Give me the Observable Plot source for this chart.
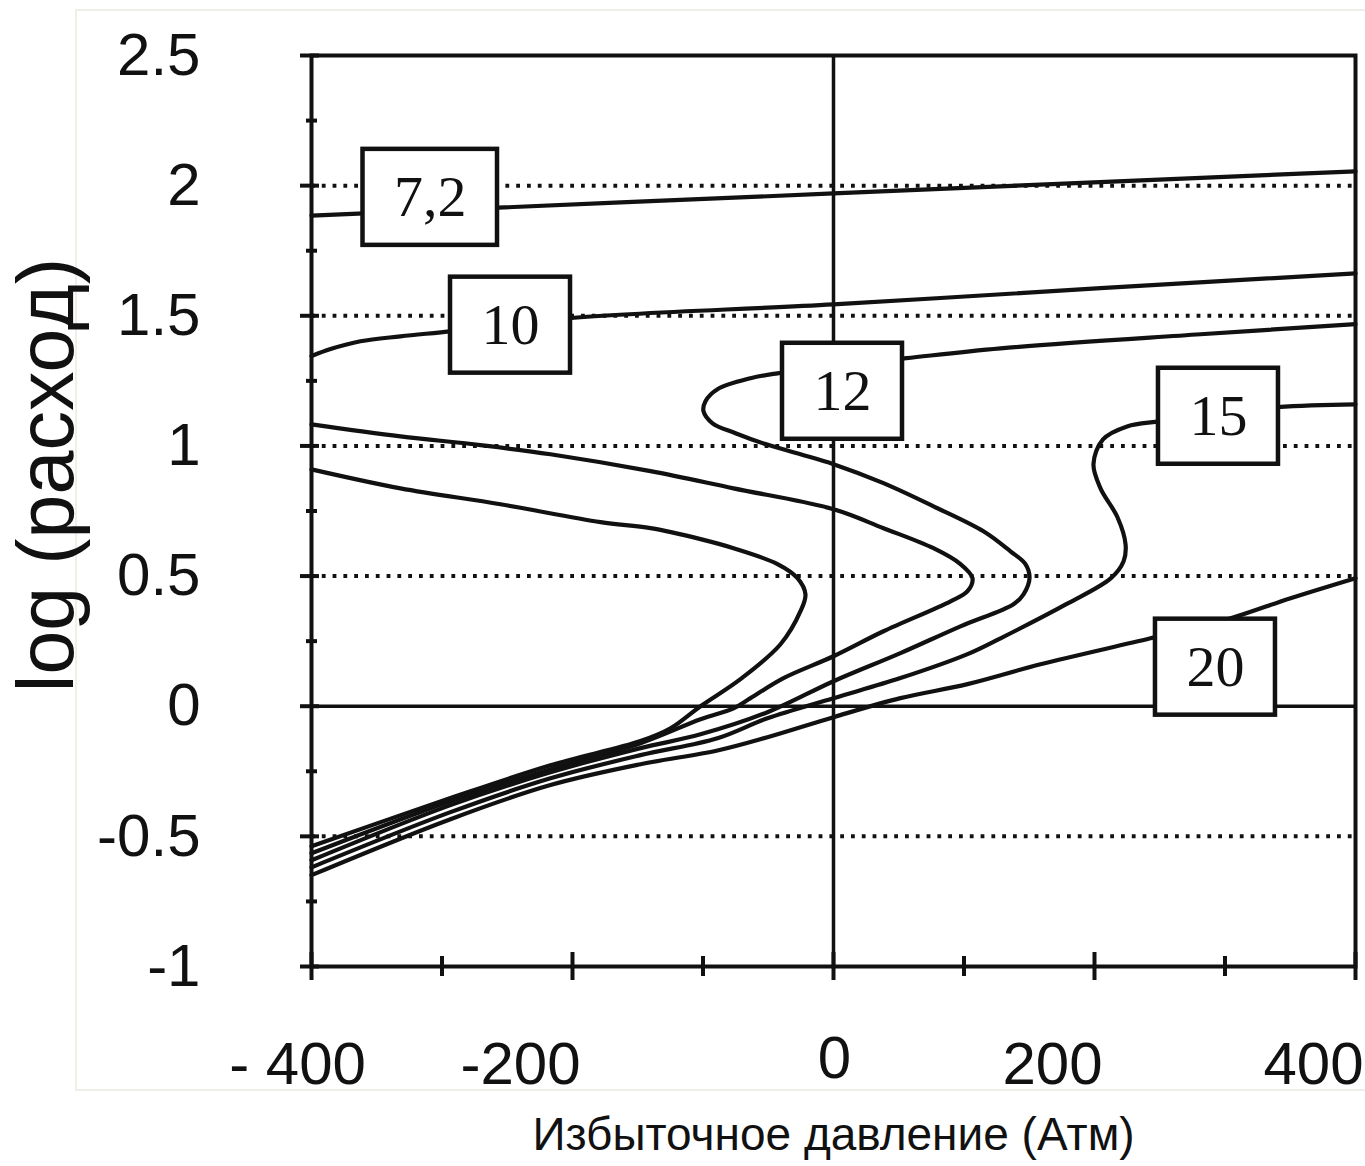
<!DOCTYPE html>
<html><head><meta charset="utf-8">
<script src="https://cdn.jsdelivr.net/npm/d3@7"></script>
<script src="https://cdn.jsdelivr.net/npm/@observablehq/plot@0.6"></script>
<style>
html,body{margin:0;padding:0;background:#fff;}
#wrap{position:relative;width:1365px;height:1166px;overflow:hidden;}
#border{position:absolute;left:75px;top:9px;width:1310px;height:1082px;border:2px solid #efefe8;box-sizing:border-box;}
#chart{position:absolute;left:0;top:0;}
</style></head><body>
<div id="wrap"><div id="border"></div><div id="chart"></div></div>
<script>
// ---- data ----
const xTicks = [-400, -200, 0, 200, 400];
const xMinorTicks = [-300, -100, 100, 300];
const xTickLabels = ["- 400", "-200", "0", "200", "400"];
const yTicks = [2.5, 2, 1.5, 1, 0.5, 0, -0.5, -1];
const yMinorTicks = [2.25, 1.75, 1.25, 0.75, 0.25, -0.25, -0.75];
const yTickLabels = ["2.5", "2", "1.5", "1", "0.5", "0", "-0.5", "-1"];
const gridY = [2, 1.5, 1, 0.5, -0.5];
const xTitle = "Избыточное давление (Атм)";
const yTitle = "log (расход)";

// contour "7,2"
const curve72 = [[-400, 1.885], [0, 1.97], [400, 2.055]];
// contour "10"
const curve10 = [[-400, 1.345], [-385.4, 1.372], [-362.5, 1.402], [-331.8, 1.421], [-292, 1.441],
  [-203, 1.491], [0, 1.544], [204.6, 1.606], [400, 1.663]];
// lower branch entering from the left (tip near -20)
const curveA = [[-400, 0.910], [-331.8, 0.837], [-255.2, 0.776], [-178.5, 0.707], [-140.2, 0.684],
  [-101.9, 0.642], [-76.6, 0.607], [-42.9, 0.546], [-27.6, 0.492], [-21.5, 0.430], [-25.3, 0.365],
  [-40.6, 0.238], [-71.3, 0.104], [-101.9, 0], [-124.9, -0.085], [-147.9, -0.134], [-216.9, -0.227],
  [-293.5, -0.353], [-400, -0.538]];
// lower branch entering from the left (tip near 105)
const curveB = [[-400, 1.083], [-331.8, 1.037], [-270.5, 1.003], [-216.9, 0.968], [-140.2, 0.903],
  [-76.6, 0.837], [0, 0.757], [38.3, 0.684], [76.6, 0.607], [97.3, 0.546], [106.5, 0.492],
  [102.7, 0.442], [89.7, 0.403], [38.3, 0.288], [0, 0.192], [-38.3, 0.108], [-63.6, 0.031],
  [-76.6, -0.008], [-101.9, -0.050], [-147.9, -0.142], [-216.9, -0.242], [-293.5, -0.365], [-400, -0.565]];
// contour "12"
const curve12 = [[400, 1.468], [281.2, 1.429], [128, 1.375], [55.9, 1.337], [6.9, 1.310],
  [-42.9, 1.279], [-63.6, 1.260], [-88.9, 1.218], [-98.1, 1.172], [-99.6, 1.133], [-92.7, 1.087],
  [-75.1, 1.049], [-52.1, 1.007], [-25.3, 0.968], [0, 0.930], [38.3, 0.857], [76.6, 0.768],
  [114.9, 0.672], [135.6, 0.595], [147.1, 0.546], [150.2, 0.492], [145.6, 0.430], [137.9, 0.392],
  [97.3, 0.307], [51.3, 0.204], [0, 0.096], [-50.6, -0.023], [-101.9, -0.108], [-147.9, -0.161],
  [-216.9, -0.254], [-293.5, -0.380], [-400, -0.592]];
// contour "15"
const curve15 = [[400, 1.160], [340.2, 1.149], [250.6, 1.095], [225, 1.075], [206.5, 1.025],
  [199.2, 0.930], [204.6, 0.837], [217.6, 0.726], [223.8, 0.622], [222.3, 0.557], [212.6, 0.492],
  [178.4, 0.392], [128, 0.261], [102.7, 0.200], [51.3, 0.108], [0, 0.031], [-50.6, -0.046],
  [-88.9, -0.123], [-147.9, -0.188], [-216.9, -0.277], [-293.5, -0.407], [-400, -0.619]];
// contour "20"
const curve20 = [[400, 0.492], [350.2, 0.415], [301.9, 0.334], [242.9, 0.261], [158.6, 0.161],
  [102.7, 0.085], [51.3, 0.031], [0, -0.042], [-50.6, -0.119], [-88.9, -0.170], [-147.9, -0.223],
  [-216.9, -0.303], [-293.5, -0.434], [-400, -0.649]];

const labelText = ["7,2", "10", "12", "15", "20"];
const labelX = [-309, -247.5, 6.9, 295, 292.7];
const labelY = [1.955, 1.464, 1.21, 1.114, 0.15];

// ---- build table ----
const series = [["7,2", curve72], ["10", curve10], ["A", curveA], ["B", curveB],
  ["12", curve12], ["15", curve15], ["20", curve20]];
const rows = series.flatMap(([name, pts]) => pts.map(([x, y]) => ({curve: name, x, y})));

const W = 1365, H = 1166, ML = 311, MR = 10, MT = 55, MB = 200;
const PW = W - ML - MR, PH = H - MT - MB;
const ink = "#111";
const sans = "'Liberation Sans', Arial, sans-serif";
const serif = "'Liberation Serif', 'Times New Roman', serif";

const chart = Plot.plot({
  width: W, height: H,
  marginLeft: ML, marginRight: MR, marginTop: MT, marginBottom: MB,
  x: {domain: [-400, 400], axis: null},
  y: {domain: [-1, 2.5], axis: null},
  style: {background: "transparent", overflow: "visible"},
  marks: [
    Plot.ruleY(gridY, {y: d => d, stroke: ink, strokeWidth: 4, strokeDasharray: "3.8,7"}),
    Plot.ruleY([0], {stroke: ink, strokeWidth: 3.5}),
    Plot.ruleX([0], {stroke: ink, strokeWidth: 3.5}),
    Plot.frame({stroke: ink, strokeWidth: 4}),
    Plot.ruleY(yTicks, {y: d => d, stroke: ink, strokeWidth: 4, insetLeft: -11, insetRight: PW - 8}),
    Plot.ruleY(yMinorTicks, {y: d => d, stroke: ink, strokeWidth: 4, insetLeft: -5, insetRight: PW - 6}),
    Plot.ruleX(xTicks, {x: d => d, stroke: ink, strokeWidth: 4, insetTop: PH - 14, insetBottom: -14}),
    Plot.ruleX(xMinorTicks, {x: d => d, stroke: ink, strokeWidth: 4, insetTop: PH - 10, insetBottom: -10}),
    Plot.line(rows, {x: "x", y: "y", z: "curve", stroke: ink, strokeWidth: 4.2, curve: "catmull-rom",
      strokeLinejoin: "round", strokeLinecap: "round"}),
    Plot.text(labelText, {x: (d, i) => labelX[i], y: (d, i) => labelY[i], text: d => d,
      fontFamily: serif, fontSize: 58, fill: ink, lineAnchor: "middle", textAnchor: "middle"}),
    Plot.text(yTicks, {y: d => d, text: (d, i) => yTickLabels[i], frameAnchor: "left", dx: -111,
      textAnchor: "end", lineAnchor: "middle", fontFamily: sans, fontSize: 60, fill: ink}),
    Plot.text(xTicks, {filter: (d, i) => i === 0, x: d => d, text: (d, i) => xTickLabels[i],
      frameAnchor: "bottom", dy: 98, dx: -14, textAnchor: "middle", lineAnchor: "middle",
      fontFamily: sans, fontSize: 60, fill: ink}),
    Plot.text(xTicks, {filter: (d, i) => i === 2, x: d => d, text: (d, i) => xTickLabels[i],
      frameAnchor: "bottom", dy: 92, dx: 1, textAnchor: "middle", lineAnchor: "middle",
      fontFamily: sans, fontSize: 60, fill: ink}),
    Plot.text(xTicks, {filter: (d, i) => i === 1 || i > 2, x: d => d, text: (d, i) => xTickLabels[i],
      frameAnchor: "bottom", dy: 98, dx: 8, textAnchor: "end", lineAnchor: "middle",
      fontFamily: sans, fontSize: 60, fill: ink}),
    Plot.text([yTitle], {text: d => d, frameAnchor: "left", rotate: -90, dx: -264, dy: -36,
      textAnchor: "middle", lineAnchor: "middle", fontFamily: sans, fontSize: 79, fill: ink}),
    Plot.text([xTitle], {text: d => d, frameAnchor: "bottom", dy: 169, textAnchor: "middle",
      lineAnchor: "middle", fontFamily: sans, fontSize: 46, fill: ink})
  ]
});
document.getElementById("chart").append(chart);

// white boxes behind the contour labels
const sx = chart.scale("x"), sy = chart.scale("y");
const ns = "http://www.w3.org/2000/svg";
const labelNode = [...chart.querySelectorAll("text")].find(t => t.textContent === labelText[0]);
const g = labelNode.closest("g");
const ctx = document.createElement("canvas").getContext("2d");
ctx.font = "58px 'Liberation Serif'";
const boxes = document.createElementNS(ns, "g");
labelText.forEach((t, i) => {
  const w = ctx.measureText(t).width + 62, h = 96;
  const cx = sx.apply(labelX[i]), cy = sy.apply(labelY[i]);
  const r = document.createElementNS(ns, "rect");
  r.setAttribute("x", cx - w / 2); r.setAttribute("y", cy - h / 2);
  r.setAttribute("width", w); r.setAttribute("height", h);
  r.setAttribute("fill", "#fff"); r.setAttribute("stroke", ink); r.setAttribute("stroke-width", 4.5);
  boxes.appendChild(r);
});
g.parentNode.insertBefore(boxes, g);
</script>
</body></html>
